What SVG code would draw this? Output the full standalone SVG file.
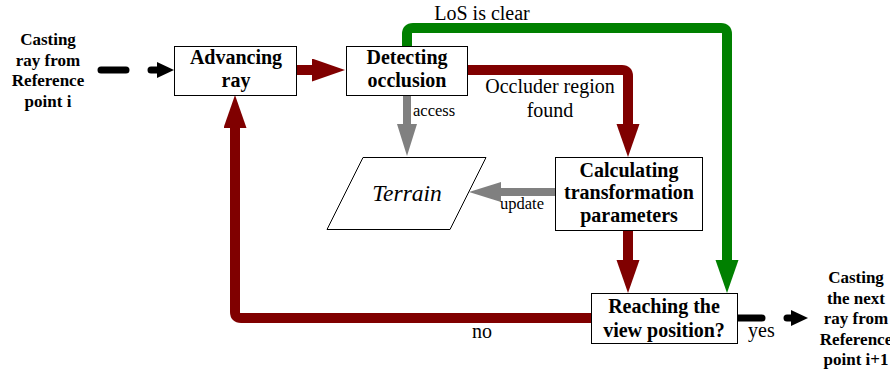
<svg xmlns="http://www.w3.org/2000/svg" width="890" height="376" viewBox="0 0 890 376">
<defs>
<style>
.box{fill:#fff;stroke:#000;stroke-width:1}
.nt{font-family:'Liberation Serif','Times New Roman',Times,'Noto Serif','DejaVu Serif',serif;font-weight:bold;font-size:20px;text-anchor:middle;fill:#000}
.side{font-family:'Liberation Serif','Times New Roman',Times,'Noto Serif','DejaVu Serif',serif;font-weight:bold;font-size:17px;text-anchor:middle;fill:#000}
.lbl{font-family:'Liberation Serif','Times New Roman',Times,'Noto Serif','DejaVu Serif',serif;font-size:20px;fill:#000}
.sm{font-family:'Liberation Serif','Times New Roman',Times,'Noto Serif','DejaVu Serif',serif;font-size:16.5px;fill:#000}
.it{font-family:'Liberation Serif','Times New Roman',Times,'Noto Serif','DejaVu Serif',serif;font-style:italic;font-size:23.5px;text-anchor:middle;fill:#000}
.red{fill:none;stroke:#800000;stroke-width:10;stroke-linecap:round;stroke-linejoin:round}
.green{fill:none;stroke:#008000;stroke-width:10;stroke-linecap:round;stroke-linejoin:round}
.grey{fill:none;stroke:#808080;stroke-width:8;stroke-linecap:round}
.blk{fill:none;stroke:#000;stroke-width:7;stroke-linecap:round}
</style>
<marker id="hr" markerUnits="userSpaceOnUse" markerWidth="34" markerHeight="24" refX="2" refY="11.5" orient="auto"><path d="M0,0 L33,11.5 L0,23 z" fill="#800000"/></marker>
<marker id="hg" markerUnits="userSpaceOnUse" markerWidth="34" markerHeight="24" refX="2" refY="11.5" orient="auto"><path d="M0,0 L33,11.5 L0,23 z" fill="#008000"/></marker>
<marker id="hgy" markerUnits="userSpaceOnUse" markerWidth="34" markerHeight="21" refX="2" refY="10" orient="auto"><path d="M0,0 L32,10 L0,20 z" fill="#808080"/></marker>
<marker id="hb" markerUnits="userSpaceOnUse" markerWidth="18" markerHeight="17" refX="2" refY="8" orient="auto"><path d="M0,0 L17,8 L0,16 z" fill="#000"/></marker>
</defs>
<rect width="890" height="376" fill="#fff"/>

<g id="connectors">
<path class="blk" d="M101,70 L159,70" stroke-dasharray="25 25" marker-end="url(#hb)"/>
<path class="red" d="M297,70 L314,70" marker-end="url(#hr)"/>
<path class="green" d="M407,46 L407,34 Q407,28 413,28 L721,28 Q727,28 727,34 L727,262" marker-end="url(#hg)"/>
<path class="red" d="M467,70 L622,70 Q628,70 628,76 L628,126" marker-end="url(#hr)"/>
<path class="red" d="M628,230 L628,262" marker-end="url(#hr)"/>
<path class="red" d="M591,318 L241,318 Q235,318 235,312 L235,126" marker-end="url(#hr)"/>
<path class="grey" d="M407,96 L407,126" marker-end="url(#hgy)"/>
<path class="grey" d="M555,192 L499,192" marker-end="url(#hgy)"/>
<path class="blk" d="M738,318 L793,318" stroke-dasharray="24 25" marker-end="url(#hb)"/>
<text class="lbl" x="482" y="20" text-anchor="middle">LoS is clear</text>
<text class="lbl" x="550" y="93" text-anchor="middle">Occluder region</text>
<text class="lbl" x="550" y="117" text-anchor="middle">found</text>
<text class="sm" x="413" y="116">access</text>
<text class="sm" x="500" y="209">update</text>
<text class="lbl" x="482" y="338" text-anchor="middle">no</text>
<text class="lbl" x="748" y="337">yes</text>
</g>

<g id="start">
<text class="side" x="48" y="45">Casting</text>
<text class="side" x="48" y="65.5">ray from</text>
<text class="side" x="48" y="86">Reference</text>
<text class="side" x="48" y="106.5">point i</text>
</g>

<g id="advancing">
<rect class="box" x="174.5" y="46.5" width="122" height="49"/>
<text class="nt" x="236" y="64">Advancing</text>
<text class="nt" x="236" y="87">ray</text>
</g>

<g id="detecting">
<rect class="box" x="346.5" y="46.5" width="121" height="49"/>
<text class="nt" x="407" y="63.5">Detecting</text>
<text class="nt" x="407" y="87">occlusion</text>
</g>

<g id="terrain">
<polygon class="box" points="363,157.5 486,157.5 450,229.5 327,229.5"/>
<text class="it" x="407" y="200.5">Terrain</text>
</g>

<g id="calculating">
<rect class="box" x="555.5" y="157.5" width="147" height="73"/>
<text class="nt" x="629" y="176.5">Calculating</text>
<text class="nt" x="629" y="199">transformation</text>
<text class="nt" x="629" y="221.5">parameters</text>
</g>

<g id="reaching">
<rect class="box" x="591.5" y="293.5" width="146" height="50"/>
<text class="nt" x="664" y="313">Reaching the</text>
<text class="nt" x="664" y="337">view position?</text>
</g>

<g id="end">
<text class="side" x="856" y="283">Casting</text>
<text class="side" x="856" y="303.5">the next</text>
<text class="side" x="856" y="324">ray from</text>
<text class="side" x="856" y="344.5">Reference</text>
<text class="side" x="856" y="365">point i+1</text>
</g>
</svg>
